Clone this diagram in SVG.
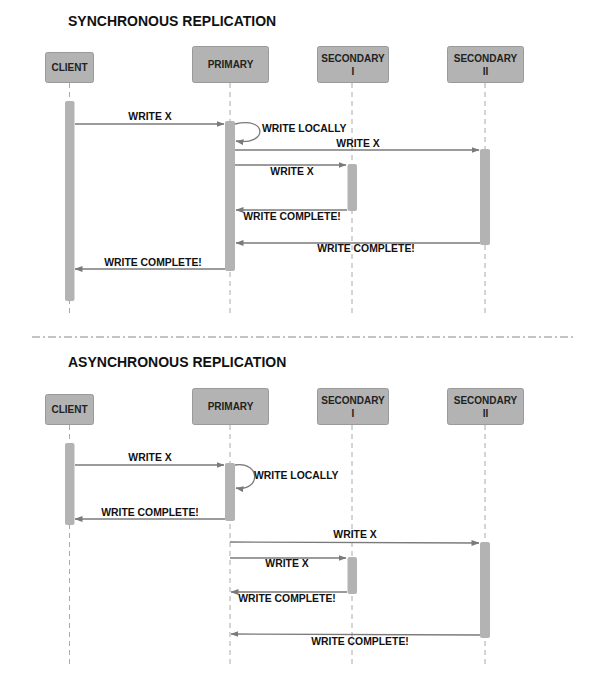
<svg xmlns="http://www.w3.org/2000/svg" width="595" height="692" viewBox="0 0 595 692">
<defs>
<style>
.title{font-family:"Liberation Sans",Arial,sans-serif;font-weight:bold;font-size:14px;fill:#111}
.box{fill:#b3b3b3;stroke:#9a9a9a;stroke-width:1}
.blabel{font-family:"Liberation Sans",Arial,sans-serif;font-weight:bold;font-size:10px;fill:#222;text-anchor:middle}
.life{stroke:#aaa;stroke-width:1;stroke-dasharray:5,4;fill:none}
.act{fill:#b3b3b3}
.msg{stroke:#7a7a7a;stroke-width:1.3;fill:none;marker-end:url(#ah)}
.mlabel{font-family:"Liberation Sans",Arial,sans-serif;font-weight:bold;font-size:10.4px;fill:#111;text-anchor:middle}
.sep{stroke:#888;stroke-width:1;stroke-dasharray:8,3,2,3;fill:none}
</style>
<marker id="ah" viewBox="0 0 8 6" refX="7.5" refY="3" markerWidth="8" markerHeight="6" markerUnits="userSpaceOnUse" orient="auto">
<path d="M0,0 L8,3 L0,6 Z" fill="#7a7a7a"/>
</marker>
</defs>
<rect width="595" height="692" fill="#fff"/>

<!-- ===== SYNCHRONOUS ===== -->
<text class="title" x="68" y="26">SYNCHRONOUS REPLICATION</text>

<g id="sync-lifelines">
<line class="life" x1="69.5" y1="83" x2="69.5" y2="316"/>
<line class="life" x1="230" y1="83" x2="230" y2="313"/>
<line class="life" x1="352" y1="83" x2="352" y2="313"/>
<line class="life" x1="485" y1="83" x2="485" y2="313"/>
</g>

<g id="sync-client"><rect class="box" x="45.5" y="52.5" width="48" height="30" rx="2"/><text class="blabel" x="69.5" y="71">CLIENT</text></g>
<g id="sync-primary"><rect class="box" x="192.5" y="46.5" width="76" height="36" rx="2"/><text class="blabel" x="230.5" y="68">PRIMARY</text></g>
<g id="sync-secondary1"><rect class="box" x="317.5" y="46.5" width="71" height="36" rx="2"/><text class="blabel" x="353" y="62">SECONDARY</text><text class="blabel" x="353" y="75">I</text></g>
<g id="sync-secondary2"><rect class="box" x="447.5" y="46.5" width="76" height="36" rx="2"/><text class="blabel" x="485.5" y="62">SECONDARY</text><text class="blabel" x="485.5" y="75">II</text></g>

<g id="sync-activations">
<rect class="act" x="65" y="101" width="9.5" height="200" rx="2"/>
<rect class="act" x="225" y="121" width="10" height="150" rx="2"/>
<rect class="act" x="347.5" y="164" width="9.5" height="47" rx="2"/>
<rect class="act" x="480" y="149" width="10" height="96" rx="2"/>
</g>

<g id="sync-connectors">
<line class="msg" x1="75" y1="124" x2="224" y2="124"/>
<path class="msg" d="M235,124 C268,116 268,146 236,141"/>
<line class="msg" x1="235" y1="150" x2="479" y2="150"/>
<line class="msg" x1="235" y1="165" x2="346" y2="165"/>
<line class="msg" x1="347" y1="210" x2="236" y2="210"/>
<line class="msg" x1="480" y1="243" x2="236" y2="243"/>
<line class="msg" x1="225" y1="269" x2="75" y2="269"/>
</g>

<g id="sync-labels">
<text class="mlabel" x="150" y="120">WRITE X</text>
<text class="mlabel" x="262" y="132" style="text-anchor:start">WRITE LOCALLY</text>
<text class="mlabel" x="358" y="147">WRITE X</text>
<text class="mlabel" x="292" y="175">WRITE X</text>
<text class="mlabel" x="292" y="220">WRITE COMPLETE!</text>
<text class="mlabel" x="366" y="252">WRITE COMPLETE!</text>
<text class="mlabel" x="153" y="266">WRITE COMPLETE!</text>
</g>

<line id="separator" class="sep" x1="32" y1="337" x2="576" y2="337"/>

<!-- ===== ASYNCHRONOUS ===== -->
<text class="title" x="68" y="367">ASYNCHRONOUS REPLICATION</text>

<g id="async-lifelines">
<line class="life" x1="69.5" y1="425" x2="69.5" y2="668"/>
<line class="life" x1="230" y1="425" x2="230" y2="668"/>
<line class="life" x1="352" y1="425" x2="352" y2="668"/>
<line class="life" x1="485" y1="425" x2="485" y2="668"/>
</g>

<g id="async-client"><rect class="box" x="45.5" y="394.5" width="48" height="30" rx="2"/><text class="blabel" x="69.5" y="413">CLIENT</text></g>
<g id="async-primary"><rect class="box" x="192.5" y="388.5" width="76" height="36" rx="2"/><text class="blabel" x="230.5" y="410">PRIMARY</text></g>
<g id="async-secondary1"><rect class="box" x="317.5" y="388.5" width="71" height="36" rx="2"/><text class="blabel" x="353" y="404">SECONDARY</text><text class="blabel" x="353" y="417">I</text></g>
<g id="async-secondary2"><rect class="box" x="447.5" y="388.5" width="76" height="36" rx="2"/><text class="blabel" x="485.5" y="404">SECONDARY</text><text class="blabel" x="485.5" y="417">II</text></g>

<g id="async-activations">
<rect class="act" x="65" y="443" width="9.5" height="82" rx="2"/>
<rect class="act" x="225" y="463" width="10" height="58" rx="2"/>
<rect class="act" x="347.5" y="557" width="9.5" height="37" rx="2"/>
<rect class="act" x="480" y="542" width="10" height="96" rx="2"/>
</g>

<g id="async-connectors">
<line class="msg" x1="75" y1="465" x2="224" y2="465"/>
<path class="msg" d="M235,465 C261,461 261,492 236,488"/>
<line class="msg" x1="225" y1="519" x2="75" y2="519"/>
<line class="msg" x1="230" y1="542" x2="479" y2="543"/>
<line class="msg" x1="230" y1="558" x2="346" y2="558"/>
<line class="msg" x1="347" y1="592" x2="231" y2="592"/>
<line class="msg" x1="480" y1="635" x2="231" y2="634"/>
</g>

<g id="async-labels">
<text class="mlabel" x="150" y="461">WRITE X</text>
<text class="mlabel" x="254" y="479" style="text-anchor:start">WRITE LOCALLY</text>
<text class="mlabel" x="150" y="516">WRITE COMPLETE!</text>
<text class="mlabel" x="355" y="538">WRITE X</text>
<text class="mlabel" x="287" y="567">WRITE X</text>
<text class="mlabel" x="287" y="602">WRITE COMPLETE!</text>
<text class="mlabel" x="360" y="645">WRITE COMPLETE!</text>
</g>
</svg>
